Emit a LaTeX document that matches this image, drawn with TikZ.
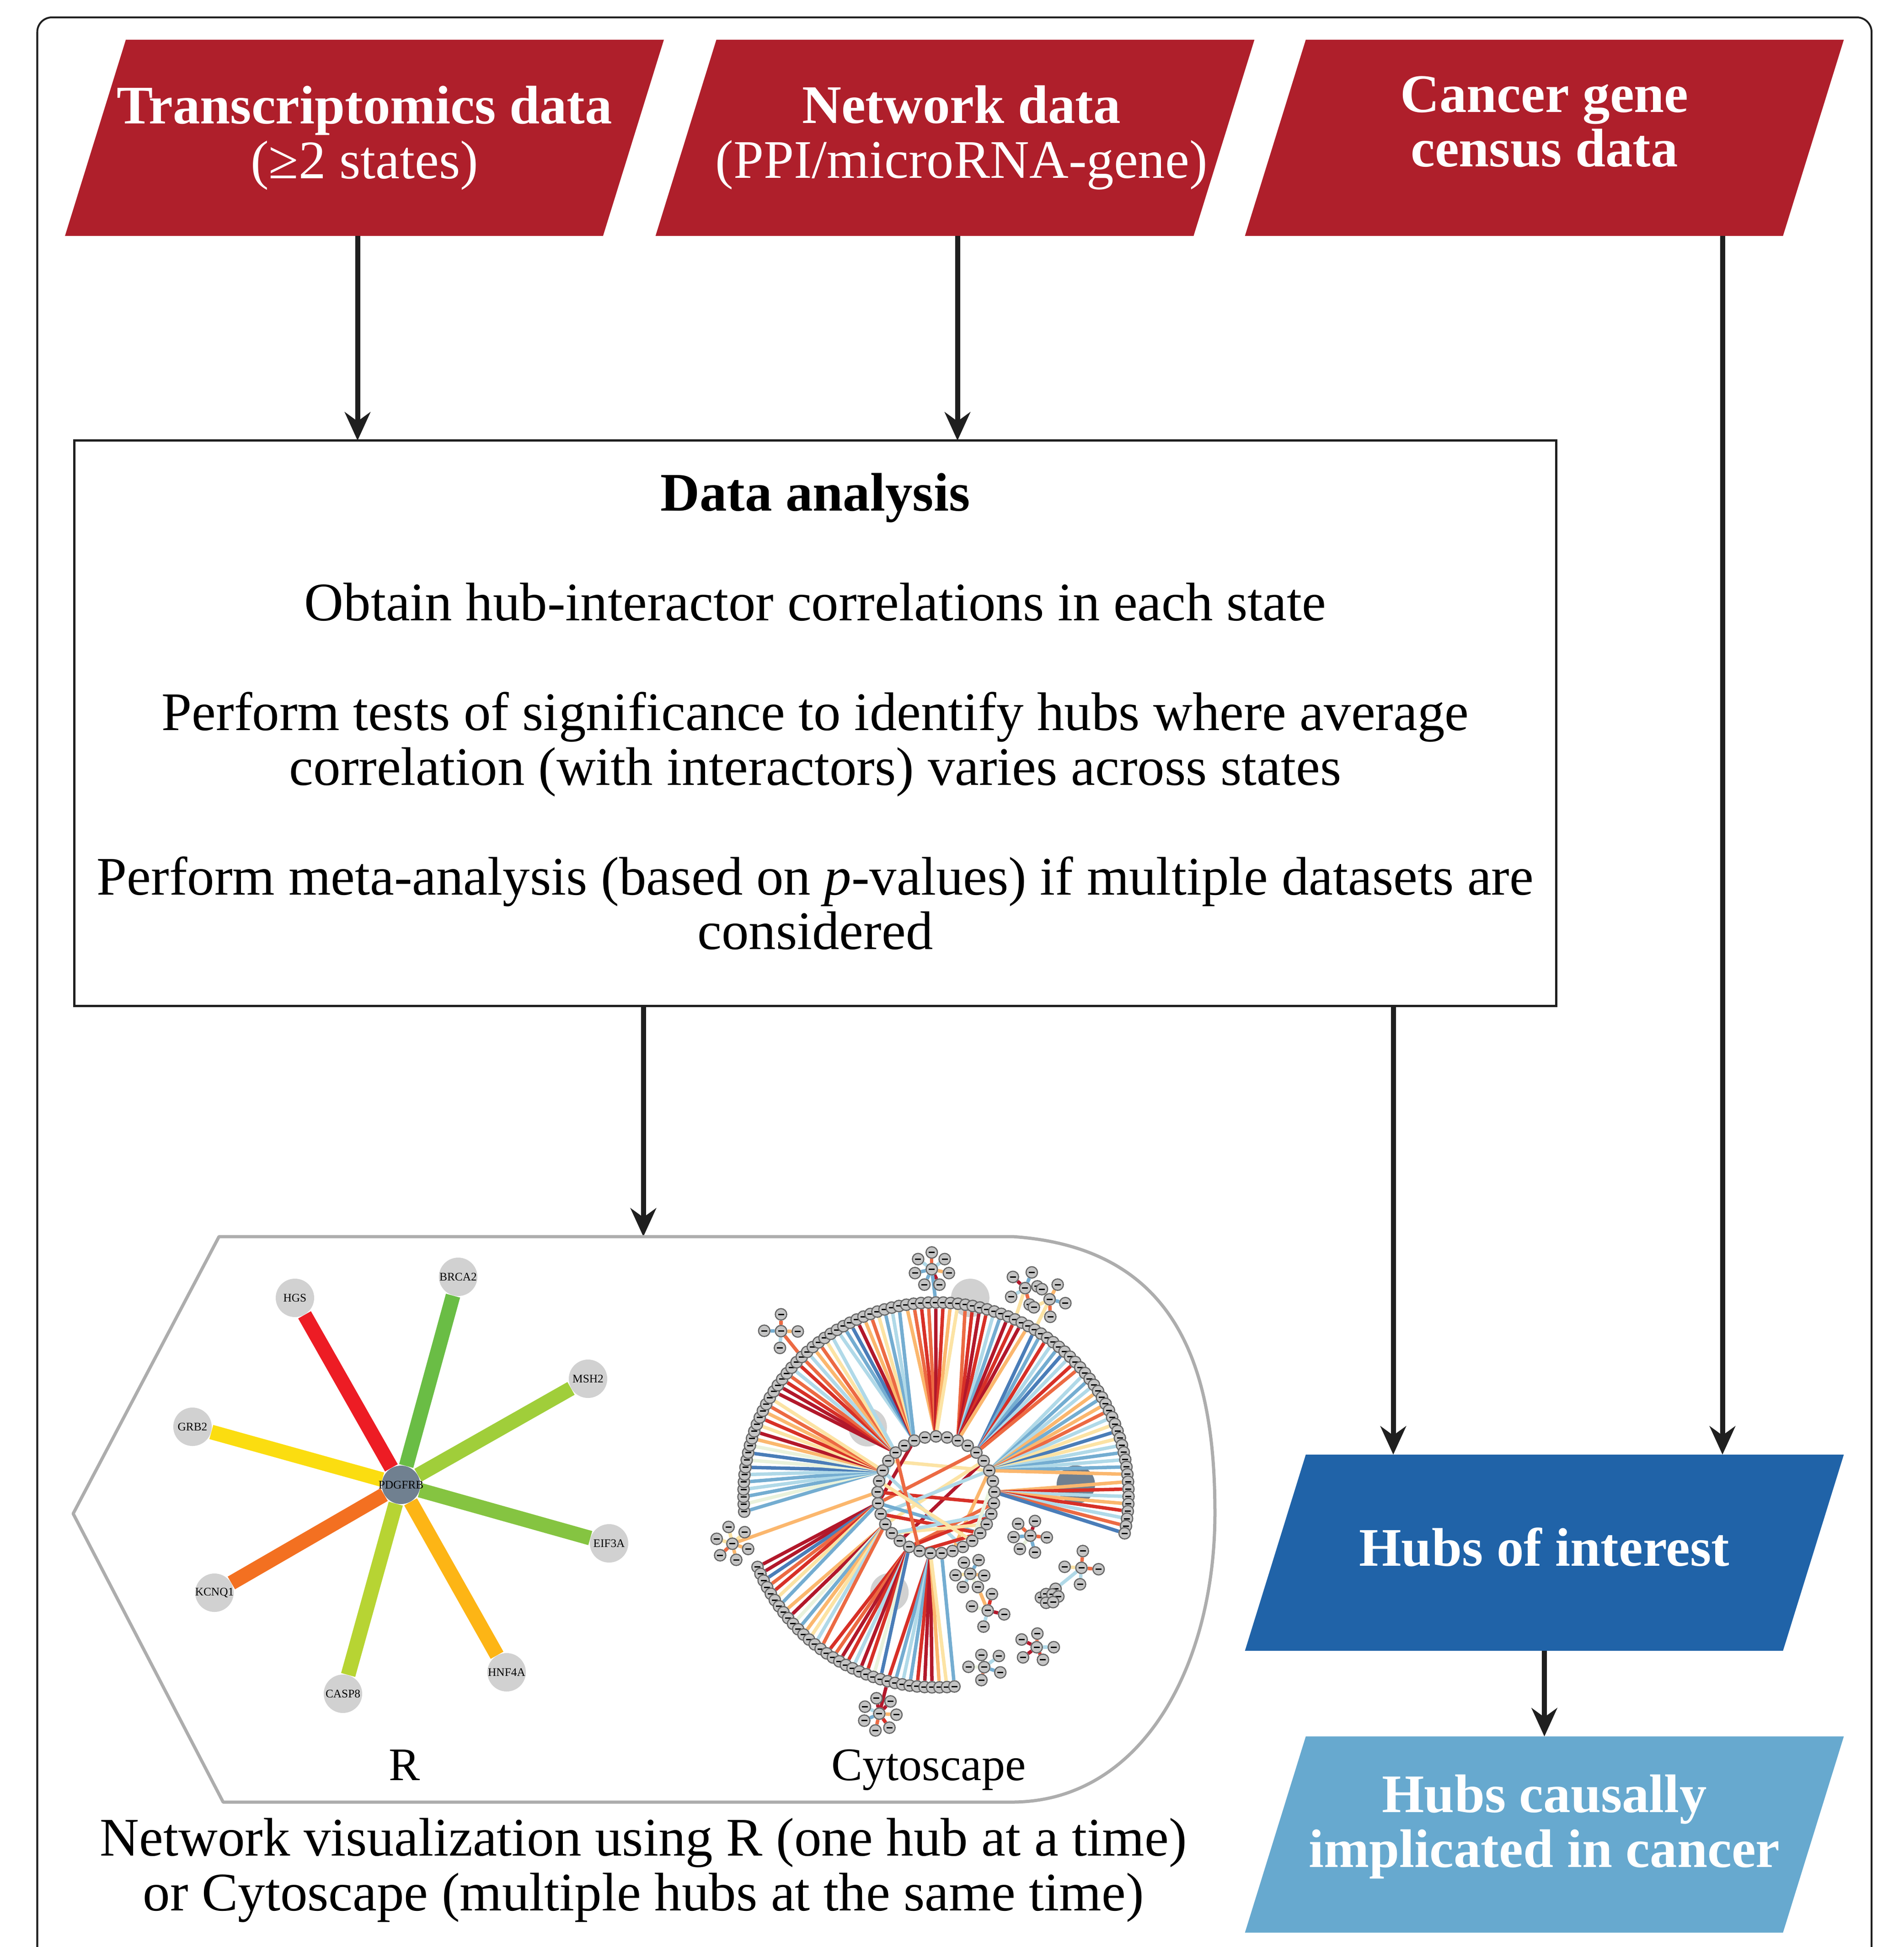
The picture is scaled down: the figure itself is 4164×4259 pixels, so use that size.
\documentclass[tikz,border=0pt]{standalone}
\usepackage{fontspec}
\setmainfont{Liberation Serif}
\usetikzlibrary{arrows.meta}

\definecolor{cellred}{HTML}{AF1F2B}
\definecolor{hubblue}{HTML}{2063A8}
\definecolor{cancerblue}{HTML}{67A9CF}
\definecolor{slatehub}{HTML}{708090}
\definecolor{dr}{HTML}{B2182B}
\definecolor{rd}{HTML}{D73027}
\definecolor{og}{HTML}{EC6A43}
\definecolor{tn}{HTML}{FBB76E}
\definecolor{yl}{HTML}{FCE3A4}
\definecolor{pl}{HTML}{E9F2DC}
\definecolor{lb}{HTML}{B0D9E8}
\definecolor{mb}{HTML}{74ADD1}
\definecolor{bl}{HTML}{4A7DB8}

\pgfdeclarelayer{ghost}
\pgfdeclarelayer{edges}
\pgfsetlayers{ghost,edges,main}

\tikzset{
	bigtext/.style={font=\fontsize{33.8}{34.1}\selectfont},
	labeltext/.style={font=\fontsize{29}{34}\selectfont},
	databox/.style={bigtext, rectangle, minimum width=13.09cm, minimum height=4.29cm, inner sep=0pt, outer sep=0pt, text=white, align=center,
		path picture={\fill[#1] ([xshift=1.33cm]path picture bounding box.north west) -- (path picture bounding box.north east) -- ([xshift=-1.33cm]path picture bounding box.south east) -- (path picture bounding box.south west) -- cycle;}},
	flow/.style={line width=0.11cm, draw=black!88, -{Stealth[length=0.62cm,width=0.56cm,inset=0.2cm]}},
	rnode/.style={circle, fill=black!18, minimum size=0.84cm, inner sep=0pt, font=\fontsize{7.2}{8}\selectfont},
	redge/.style={line width=0.32cm},
	ringnode/.style={circle, draw=black!60, fill=black!23, line width=0.025cm, minimum size=0.25cm, inner sep=0pt},
	edge/.style={line width=0.075cm},
}

\newcommand{\blob}{\rule{0.13cm}{0.03cm}}

\newcommand{\fan}[4]{%
	\foreach \col [count=\k from #2] in {#4}
		\draw[edge,draw=\col] (#1\k) -- (c#3);
}

\newcommand{\hubstar}[3]{%
	\node[ringnode] (#1) at (#2) {\blob};
	\foreach \lx/\ly/\col [count=\k] in {#3} {
		\node[ringnode] (#1\k) at (\lx,\ly) {\blob};
		\begin{pgfonlayer}{edges}
			\draw[edge,draw=\col] (#1) -- (#1\k);
		\end{pgfonlayer}
	}
}

\begin{document}
\begin{tikzpicture}[x=0.01cm,y=-0.01cm]

	\useasboundingbox (0,0) rectangle (4164,4259);

	\draw[line width=0.04cm, draw=black!88, rounded corners=0.32cm] (81.5,4259) -- (81.5,38) -- (4093,38) -- (4093,4259);

	\coordinate (arrowA) at (782,0);
	\coordinate (arrowB) at (2094,0);
	\coordinate (arrowC) at (3767,0);
	\coordinate (arrowD) at (1407,0);
	\coordinate (arrowE) at (3047,0);
	\coordinate (vistop) at (1407,2705);

	\node[databox=cellred] (transcript) at (797,301.5) {\textbf{Transcriptomics data}\\(≥2 states)};
	\node[databox=cellred] (network) at (2088.5,301.5) {\hspace*{0.28cm}\textbf{Network data}\\\hspace*{0.28cm}(PPI/microRNA-gene)};
	\node[databox=cellred] (census) at (3377.5,301.5) {\textbf{Cancer gene}\\\textbf{census data}\\[-13.7pt]\phantom{x}};
	\node[databox=hubblue] (hubs) at (3377.5,3396.5) {\textbf{Hubs of interest}\\[-27pt]\phantom{x}};
	\node[databox=cancerblue] (causal) at (3377.5,4013) {\textbf{Hubs causally}\\\textbf{implicated in cancer}\\[-17pt]\phantom{x}};

	\node[draw, line width=0.05cm, draw=black!88, bigtext, align=center, minimum width=32.4cm, minimum height=12.36cm, inner sep=0pt, outer sep=0pt] (analysis) at (1783,1582) {\textbf{Data analysis}\\[34.1pt]
		Obtain hub-interactor correlations in each state\\[34.1pt]
		Perform tests of significance to identify hubs where average\\
		correlation (with interactors) varies across states\\[34.1pt]
		Perform meta-analysis (based on \textit{p}-values) if multiple datasets are\\
		considered\\[-19.3pt]\phantom{x}};

	\draw[flow] (transcript.south -| arrowA) -- (analysis.north -| arrowA);
	\draw[flow] (network.south -| arrowB) -- (analysis.north -| arrowB);
	\draw[flow] (census.south -| arrowC) -- (hubs.north -| arrowC);
	\draw[flow] (analysis.south -| arrowD) -- (vistop);
	\draw[flow] (analysis.south -| arrowE) -- (hubs.north -| arrowE);
	\draw[flow] (hubs.south) -- (causal.north);

	\draw[line width=0.07cm, draw=black!32, line join=round] (479,2705) -- (160,3311) -- (488,3942) -- (2215,3942) .. controls (2500,3940) and (2657,3640) .. (2657,3310) .. controls (2657,3000) and (2580,2730) .. (2215,2705) -- cycle;

	\node[rnode, fill=slatehub] (pdgfrb) at (877,3248) {\makebox[0pt]{PDGFRB}};
	\foreach \nm/\txt/\x/\y/\col in {
		hgs/HGS/645/2839/ED1C24,
		brca/BRCA2/1002/2793/6ABD45,
		msh/MSH2/1286/3016/A0CE3A,
		eif/EIF3A/1332/3376/85C441,
		hnf/HNF4A/1108/3658/FDB515,
		casp/CASP8/750/3705/B7D433,
		kcnq/KCNQ1/469/3484/F37021,
		grb/GRB2/421/3121/FBDD10} {
		\definecolor{spoke}{HTML}{\col}
		\node[rnode] (\nm) at (\x,\y) {\makebox[0pt]{\txt}};
		\begin{pgfonlayer}{edges}
			\draw[redge, draw=spoke] (pdgfrb) -- (\nm);
		\end{pgfonlayer}
	}

	\node[labeltext, anchor=base] (rlabel) at (885,3894) {R};
	\node[labeltext, anchor=base] (cytolabel) at (2031,3894) {Cytoscape};
	\node[bigtext, align=center] (caption) at (1407,4091) {Network visualization using R (one hub at a time)\\or Cytoscape (multiple hubs at the same time)};

	\begin{scope}[shift={(2047,3270)}]
		\foreach \k in {0,...,89}
			\node[ringnode] (u\k) at ({-185+\k*2.208}:421) {\blob};
		\foreach \k in {0,...,33}
			\node[ringnode] (l\k) at ({-202-\k*2.227}:421) {\blob};
		\foreach \k in {0,...,32}
			\node[ringnode] (c\k) at ({-90+\k*10.909}:128) {\blob};
	\end{scope}

	\begin{pgfonlayer}{edges}
		\fan{u}{0}{27}{mb,pl,mb,lb,mb,lb,bl,pl,bl,pl,tn,dr,yl,rd,tn,og,yl}
		\fan{u}{17}{29}{dr,dr,rd,og,lb,rd,og,lb,tn,og,yl,lb}
		\fan{u}{29}{31}{lb,mb,bl,dr,tn,og,yl,mb,lb,mb}
		\fan{u}{39}{0}{tn,og,rd,og,dr,rd,tn,yl}
		\fan{u}{47}{2}{og,rd,dr,rd,lb,mb,dr,rd,dr,tn}
		\fan{u}{57}{4}{bl,mb,rd,lb,mb,bl,lb,rd,og}
		\fan{u}{66}{6}{lb,mb,lb,tn,mb,tn,og,lb,yl,bl,yl,lb,mb,lb,mb,tn}
		\fan{u}{82}{8}{tn,rd,lb,tn,rd,lb,og,bl}
		\draw[edge,draw=bl] (u89) -- (c8);
		\fan{l}{0}{24}{dr,dr,bl,og,rd,yl,mb}
		\fan{l}{7}{22}{tn,dr,pl,mb,tn,yl,lb,og}
		\fan{l}{15}{19}{rd,og,dr,rd,lb,dr,rd,pl,bl}
		\fan{l}{24}{17}{rd,mb,lb,mb,rd,dr,dr,tn,yl}
		\draw[edge,draw=mb] (l33) -- (c16);

		\foreach \a/\b/\col in {28/6/yl, 4/24/og, 31/24/dr, 5/20/dr, 5/22/yl, 6/23/yl, 25/9/rd, 6/23/lb, 6/15/tn, 24/12/mb, 27/14/lb, 24/21/mb, 23/12/rd, 19/9/og, 19/10/rd, 21/11/yl, 8/11/tn, 18/12/rd, 21/10/lb, 7/13/pl, 29/25/lb, 18/29/og, 26/13/yl, 20/17/og}
			\draw[edge,draw=\col] (c\a) -- (c\b);
	\end{pgfonlayer}

	\begin{scope}[shift={(1500,2680)},x=0.00765cm,y=-0.00765cm]
		\begin{pgfonlayer}{ghost}
			\node[rnode] (ghostA) at (813,208) {};
			\node[rnode] (ghostB) at (520,578) {};
			\node[rnode] (ghostC) at (582,1050) {};
			\node[rnode, fill=slatehub] (ghostD) at (1115,742) {};
		\end{pgfonlayer}

		\hubstar{sa}{703,126}{703/78/og, 740/97/lb, 752/137/tn, 725/170/dr, 682/170/mb, 655/137/mb, 664/97/lb}
		\hubstar{sb}{970,180}{935/148/dr, 989/135/mb, 1005/175/pl, 930/205/lb, 983/227/og}
		\hubstar{sc}{1040,212}{1063/170/tn, 1018/183/yl, 1085/223/mb, 1042/262/og, 995/235/yl}
		\hubstar{sd}{272,303}{272/255/og, 224/302/mb, 320/304/tn, 269/351/lb}
		\hubstar{se}{133,911}{122/863/yl, 168/878/yl, 88/897/yl, 178/926/tn, 98/944/og, 144/957/tn}
		\hubstar{sf}{985,888}{950/854/og, 998/846/dr, 1032/893/og, 937/892/mb, 955/926/pl, 998/936/mb}
		\hubstar{sg}{1131,980}{1135/932/og, 1083/977/yl, 1180/984/og, 1127/1027/lb}
		\hubstar{sh}{813,997}{795/965/pl, 837/958/mb, 853/1002/tn, 771/1001/yl, 792/1035/lb, 835/1035/pl}
		\hubstar{si}{863,1102}{875/1055/rd, 818/1090/pl, 910/1113/dr, 851/1148/lb}
		\hubstar{sj}{1003,1207}{1005/1168/og, 960/1185/dr, 1052/1207/lb, 964/1236/dr, 1021/1243/rd}
		\hubstar{sk}{853,1264}{845/1229/mb, 895/1232/lb, 808/1263/pl, 899/1279/mb, 845/1301/og}
		\hubstar{sl}{553,1397}{545/1353/dr, 585/1362/dr, 512/1377/lb, 602/1400/tn, 510/1417/mb, 542/1445/og, 582/1437/rd}
		\foreach \x/\y [count=\k] in {1057/1040,1015/1065,1030/1055,1048/1056,1065/1062,1030/1080,1050/1078}
			\node[ringnode] (q\k) at (\x,\y) {\blob};

		\begin{pgfonlayer}{edges}
			\draw[edge,draw=mb] (sa) -- (u43);
			\draw[edge,draw=yl] (sb) -- (u54);
			\draw[edge,draw=yl] (sc) -- (u57);
			\draw[edge,draw=og] (sd) -- (u23);
			\draw[edge,draw=tn] (se) -- (c25);
			\draw[edge,draw=lb] (sg) -- (q1);
			\draw[edge,draw=tn] (sh6) -- (si);
			\draw[edge,draw=dr] (sl) -- (l24);
		\end{pgfonlayer}
	\end{scope}

\end{tikzpicture}
\end{document}
